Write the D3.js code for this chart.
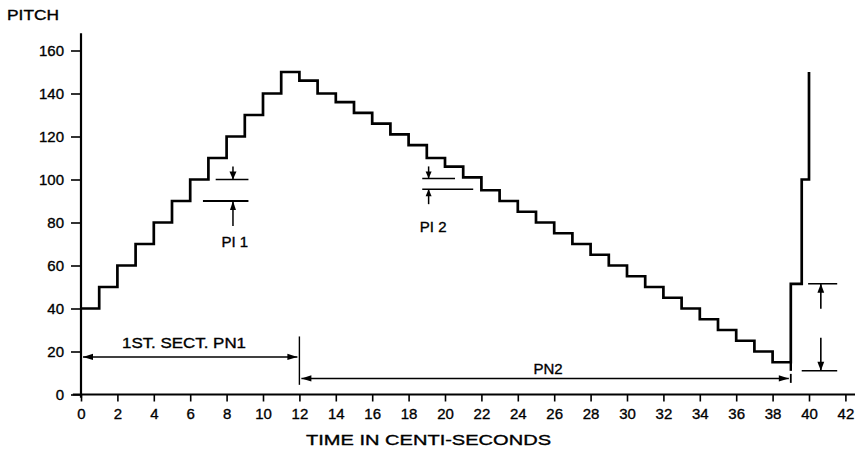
<!DOCTYPE html>
<html>
<head>
<meta charset="utf-8">
<script src="https://cdn.jsdelivr.net/npm/d3@7"></script>
<style>
  html, body { margin: 0; padding: 0; background: #fff; }
  svg { display: block; }
  text { font-family: "Liberation Sans", Arial, sans-serif; fill: #000; stroke: #000; stroke-width: 0.35px; }
</style>
</head>
<body>
<svg id="chart" width="855" height="461"></svg>
<script>
// ---- data ----
const stepTimes  = [0, 1, 2, 3, 4, 5, 6, 7, 8, 9, 10, 11, 12, 13, 14, 15, 16, 17, 18, 19,
                    20, 21, 22, 23, 24, 25, 26, 27, 28, 29, 30, 31, 32, 33, 34, 35, 36, 37, 38,
                    39, 39.6, 40];
const stepPitch  = [40, 50, 60, 70, 80, 90, 100, 110, 120, 130, 140, 150, 146, 140, 136, 131, 126, 121, 116, 110,
                    106, 101, 95, 90, 85, 80, 75, 70, 65, 60, 55, 50, 45, 40, 35, 30, 25, 20, 15,
                    51.5, 100, 150];
const xTicks = [0, 2, 4, 6, 8, 10, 12, 14, 16, 18, 20, 22, 24, 26, 28, 30, 32, 34, 36, 38, 40, 42];
const yTicks = [0, 20, 40, 60, 80, 100, 120, 140, 160];
const pi1Levels = [100, 90];
const pi2Levels = [100.5, 95.5];
const pn1Span = [0, 12];
const pn2Span = [12, 39];
const endLevels = [51.5, 11];

const svg = d3.select("#chart");
const x = d3.scaleLinear().domain([0, 42]).range([81, 845.4]);
const y = d3.scaleLinear().domain([0, 160]).range([394.5, 50.5]);

const ink = "#000";

// ---- axes ----
const gx = svg.append("g").attr("transform", `translate(0,${y(0)})`)
  .call(d3.axisBottom(x).tickValues(xTicks).tickSize(7).tickSizeOuter(0).tickPadding(4));
gx.select(".domain").remove();
gx.selectAll(".tick line").attr("stroke", ink).attr("stroke-width", 1.6);
gx.selectAll(".tick text").attr("font-size", 15).attr("dy", "0.9em");

const gy = svg.append("g").attr("transform", `translate(${x(0)},0)`)
  .call(d3.axisLeft(y).tickValues(yTicks).tickSize(10).tickSizeOuter(0).tickPadding(7));
gy.select(".domain").remove();
gy.selectAll(".tick line").attr("stroke", ink).attr("stroke-width", 1.6);
gy.selectAll(".tick text").attr("font-size", 15);

// axis lines (extended like the drawing)
svg.append("line").attr("x1", x(-0.45)).attr("x2", x(42.6)).attr("y1", y(0)).attr("y2", y(0))
  .attr("stroke", ink).attr("stroke-width", 2);
svg.append("line").attr("x1", x(0)).attr("x2", x(0)).attr("y1", y(168)).attr("y2", y(-1.5))
  .attr("stroke", ink).attr("stroke-width", 2.2);

svg.append("text").attr("x", 7).attr("y", 20).attr("font-size", 15)
  .attr("textLength", 52).attr("lengthAdjust", "spacingAndGlyphs").text("PITCH");
svg.append("text").attr("x", 306).attr("y", 445).attr("font-size", 15)
  .attr("textLength", 245).attr("lengthAdjust", "spacingAndGlyphs").text("TIME IN CENTI-SECONDS");

// ---- step trace ----
const pts = stepTimes.map((t, i) => [t, stepPitch[i]]);
const line = d3.line().x(d => x(d[0])).y(d => y(d[1])).curve(d3.curveStepAfter);
svg.append("path").attr("d", line(pts)).attr("fill", "none").attr("stroke", ink)
  .attr("stroke-width", 2.7).attr("stroke-linejoin", "miter");
// extension of the vertical at 39 down to the lower reference level
svg.append("line").attr("x1", x(39)).attr("x2", x(39)).attr("y1", y(15)).attr("y2", y(endLevels[1]))
  .attr("stroke", ink).attr("stroke-width", 2.4);

// ---- helpers ----
function seg(x1, y1, x2, y2, w) {
  svg.append("line").attr("x1", x1).attr("y1", y1).attr("x2", x2).attr("y2", y2)
    .attr("stroke", ink).attr("stroke-width", w || 1.5);
}
function head(px, py, dir, len, half) {
  len = len || 9; half = half || 3.2;
  let p;
  if (dir === "down") p = [[px, py], [px - half, py - len], [px + half, py - len]];
  if (dir === "up")   p = [[px, py], [px - half, py + len], [px + half, py + len]];
  if (dir === "left") p = [[px, py], [px + len, py - half], [px + len, py + half]];
  if (dir === "right")p = [[px, py], [px - len, py - half], [px - len, py + half]];
  svg.append("path").attr("d", "M" + p.map(q => q.join(",")).join("L") + "Z").attr("fill", ink);
}

// ---- PI 1 ----
seg(x(7.4), y(pi1Levels[0]), x(9.2), y(pi1Levels[0]), 1.7);
seg(x(6.7), y(pi1Levels[1]), x(9.2), y(pi1Levels[1]), 1.9);
seg(x(8.35), y(pi1Levels[0]) - 13, x(8.35), y(pi1Levels[0]), 1.5);
head(x(8.35), y(pi1Levels[0]), "down", 8, 3.5);
seg(x(8.35), y(pi1Levels[1]) + 25, x(8.35), y(pi1Levels[1]), 1.5);
head(x(8.35), y(pi1Levels[1]), "up", 9, 3);
svg.append("text").attr("x", x(8.45)).attr("y", 247).attr("font-size", 15)
  .attr("text-anchor", "middle").text("PI 1");

// ---- PI 2 ----
seg(x(18.75), y(pi2Levels[0]), x(20.55), y(pi2Levels[0]), 1.5);
seg(x(18.75), y(pi2Levels[1]), x(21.55), y(pi2Levels[1]), 1.5);
seg(x(19.1), y(pi2Levels[0]) - 12, x(19.1), y(pi2Levels[0]), 1.5);
head(x(19.1), y(pi2Levels[0]), "down", 7, 3);
seg(x(19.1), y(pi2Levels[1]) + 15, x(19.1), y(pi2Levels[1]), 1.5);
head(x(19.1), y(pi2Levels[1]), "up", 7, 3);
svg.append("text").attr("x", x(19.35)).attr("y", 232).attr("font-size", 15)
  .attr("text-anchor", "middle").text("PI 2");

// ---- PN1 dimension ----
const yPN1 = y(17.5);
seg(x(pn1Span[0]) + 2, yPN1, x(pn1Span[1]) - 2, yPN1, 1.5);
head(x(pn1Span[0]) + 2, yPN1, "left", 10, 3.2);
head(x(pn1Span[1]) - 2, yPN1, "right", 10, 3.2);
seg(x(pn1Span[1]), y(27), x(pn1Span[1]), y(4.5), 1.4);
svg.append("text").attr("x", 122).attr("y", 348).attr("font-size", 15)
  .attr("textLength", 124).attr("lengthAdjust", "spacingAndGlyphs").text("1ST. SECT. PN1");

// ---- PN2 dimension ----
const yPN2 = y(7.5);
seg(x(pn2Span[0]) + 2, yPN2, x(pn2Span[1]) - 2, yPN2, 1.5);
head(x(pn2Span[0]) + 2, yPN2, "left", 10, 3.2);
head(x(pn2Span[1]) - 2, yPN2, "right", 10, 3.2);
seg(x(pn2Span[1]), yPN2 - 4.5, x(pn2Span[1]), yPN2 + 4.5, 1.8);
svg.append("text").attr("x", 548).attr("y", 374).attr("font-size", 15)
  .attr("text-anchor", "middle").text("PN2");

// ---- end dimension ----
seg(x(39.95), y(endLevels[0]), x(41.55), y(endLevels[0]), 1.5);
seg(x(39.6), y(endLevels[1]), x(41.55), y(endLevels[1]), 1.5);
seg(x(40.65), y(endLevels[0]) + 25, x(40.65), y(endLevels[0]), 1.6);
head(x(40.65), y(endLevels[0]), "up", 9, 3.4);
seg(x(40.65), y(endLevels[1]) - 33, x(40.65), y(endLevels[1]), 1.6);
head(x(40.65), y(endLevels[1]), "down", 9, 3.4);
</script>
</body>
</html>
